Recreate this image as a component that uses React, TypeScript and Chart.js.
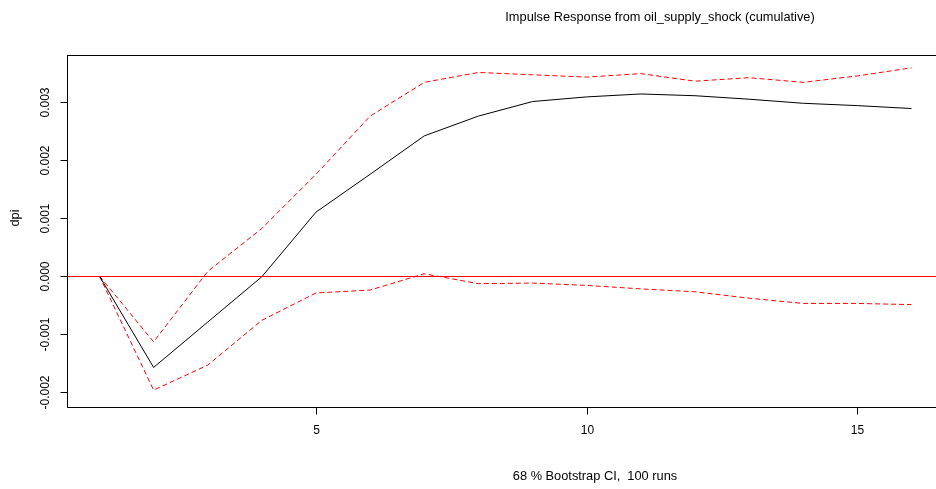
import { useEffect, useRef } from "react";
import { Chart, registerables } from "chart.js";

Chart.register(...registerables);

// Impulse response horizon (periods)
const horizon = [1, 2, 3, 4, 5, 6, 7, 8, 9, 10, 11, 12, 13, 14, 15, 16];

// Cumulative response of dpi to an oil supply shock
const irf = [
  0, -0.00157, -0.00079, -0.00001, 0.0011, 0.00175, 0.00241, 0.00275,
  0.003, 0.00308, 0.00313, 0.0031, 0.00304, 0.00297, 0.00293, 0.00288,
];

// 68 % bootstrap confidence band
const upper = [
  0, -0.00113, 0.00008, 0.00082, 0.00175, 0.00275, 0.00333, 0.0035,
  0.00346, 0.00342, 0.00348, 0.00335, 0.00341, 0.00333, 0.00344, 0.00358,
];
const lower = [
  0, -0.00196, -0.00153, -0.00076, -0.00029, -0.00024, 0.00004, -0.00013,
  -0.00012, -0.00016, -0.00022, -0.00027, -0.00038, -0.00047, -0.00047, -0.00049,
];

const xTicks = [5, 10, 15];
const yTicks = [-0.002, -0.001, 0, 0.001, 0.002, 0.003];
const yTickLabels = ["-0.002", "-0.001", "0.000", "0.001", "0.002", "0.003"];

const titleText = "Impulse Response from oil_supply_shock (cumulative)";
const xLabel = "68 % Bootstrap CI,  100 runs";
const yLabel = "dpi";

const TICK_FONT = "12px 'Liberation Sans', Arial, sans-serif";
const TEXT_FONT = "12.8px 'Liberation Sans', Arial, sans-serif";

const toPoints = (ys: number[]) => horizon.map((x, i) => ({ x, y: ys[i] }));

// Base-graphics style frame, axes, zero line and annotations
const framePlugin = {
  id: "frame",
  afterDatasetsDraw(chart: any) {
    const { ctx, chartArea, scales } = chart;
    const y0 = Math.round(scales.y.getPixelForValue(0)) + 0.5;
    ctx.save();
    ctx.beginPath();
    ctx.rect(chartArea.left, chartArea.top, chartArea.right - chartArea.left, chartArea.bottom - chartArea.top);
    ctx.clip();
    ctx.strokeStyle = "#ff0000";
    ctx.lineWidth = 1;
    ctx.beginPath();
    ctx.moveTo(chartArea.left, y0);
    ctx.lineTo(chartArea.right, y0);
    ctx.stroke();
    ctx.restore();
  },
  afterDraw(chart: any) {
    const { ctx, chartArea, scales } = chart;
    const { left, top, right, bottom } = chartArea;
    ctx.save();
    ctx.strokeStyle = "#000";
    ctx.lineWidth = 1;
    ctx.strokeRect(Math.round(left) + 0.5, Math.round(top) + 0.5, Math.round(right - left), Math.round(bottom - top));

    ctx.fillStyle = "#000";
    ctx.font = TICK_FONT;

    // x axis ticks and labels
    ctx.textAlign = "center";
    ctx.textBaseline = "middle";
    xTicks.forEach((v) => {
      const px = Math.round(scales.x.getPixelForValue(v)) + 0.5;
      ctx.beginPath();
      ctx.moveTo(px, Math.round(bottom) + 0.5);
      ctx.lineTo(px, Math.round(bottom) + 7.5);
      ctx.stroke();
      ctx.fillText(String(v), px, bottom + 24);
    });

    // y axis ticks and rotated labels
    yTicks.forEach((v, i) => {
      const py = Math.round(scales.y.getPixelForValue(v)) + 0.5;
      ctx.beginPath();
      ctx.moveTo(Math.round(left) + 0.5, py);
      ctx.lineTo(Math.round(left) - 6.5, py);
      ctx.stroke();
      ctx.save();
      ctx.translate(left - 21, py);
      ctx.rotate(-Math.PI / 2);
      ctx.fillText(yTickLabels[i], 0, 0);
      ctx.restore();
    });

    // titles
    ctx.font = TEXT_FONT;
    ctx.fillText(titleText, 660, 17);
    ctx.fillText(xLabel, 595, 476);
    ctx.save();
    ctx.translate(15, 218);
    ctx.rotate(-Math.PI / 2);
    ctx.fillText(yLabel, 0, 0);
    ctx.restore();
    ctx.restore();
  },
};

export default function App() {
  const canvasRef = useRef<HTMLCanvasElement | null>(null);

  useEffect(() => {
    const canvas = canvasRef.current;
    if (!canvas) return;
    const chart = new Chart(canvas, {
      type: "line",
      data: {
        datasets: [
          {
            data: toPoints(irf),
            borderColor: "#000000",
            borderWidth: 1,
            pointRadius: 0,
            tension: 0,
          },
          {
            data: toPoints(upper),
            borderColor: "#ff0000",
            borderWidth: 1,
            borderDash: [5, 3],
            pointRadius: 0,
            tension: 0,
          },
          {
            data: toPoints(lower),
            borderColor: "#ff0000",
            borderWidth: 1,
            borderDash: [5, 3],
            pointRadius: 0,
            tension: 0,
          },
        ],
      },
      options: {
        responsive: false,
        maintainAspectRatio: false,
        animation: false,
        devicePixelRatio: 1,
        layout: { padding: { left: 67, top: 55, right: 16, bottom: 82 } },
        scales: {
          x: { type: "linear", min: 0.4, max: 16.6, display: false },
          y: { type: "linear", min: -0.00225, max: 0.0038, display: false },
        },
        plugins: {
          legend: { display: false },
          tooltip: { enabled: false },
        },
      },
      plugins: [framePlugin],
    });
    return () => chart.destroy();
  }, []);

  return (
    <div
      style={{
        position: "absolute",
        left: 0,
        top: 0,
        width: 936,
        height: 489,
        overflow: "hidden",
        background: "#fff",
      }}
    >
      <canvas ref={canvasRef} width={960} height={489} style={{ width: 960, height: 489 }} />
    </div>
  );
}
